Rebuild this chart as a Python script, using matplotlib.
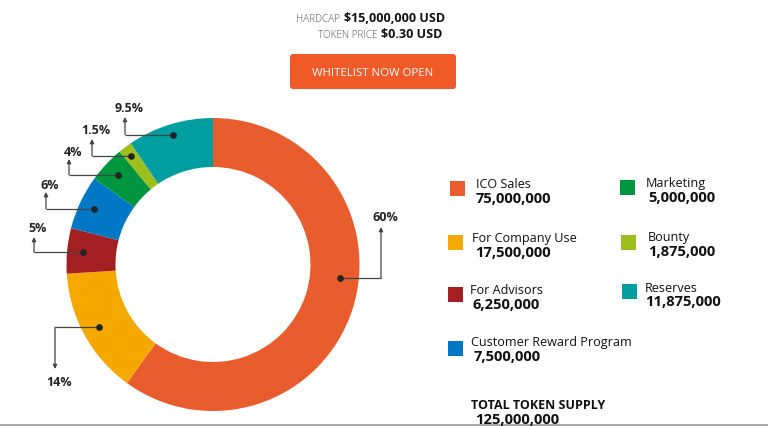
import numpy as np
import matplotlib
matplotlib.use("Agg")
import matplotlib.pyplot as plt
from matplotlib.patches import FancyBboxPatch, Rectangle

# ---- data ----
categories = ["ICO Sales", "For Company Use", "For Advisors", "Customer Reward Program",
              "Marketing", "Bounty", "Reserves"]
percents = [60, 14, 5, 6, 4, 1.5, 9.5]
pct_labels = ["60%", "14%", "5%", "6%", "4%", "1.5%", "9.5%"]
tokens = ["75,000,000", "17,500,000", "6,250,000", "7,500,000",
          "5,000,000", "1,875,000", "11,875,000"]
colors = ["#E95C2E", "#F5A800", "#A31F22", "#0177C6", "#00963F", "#9DBF1E", "#009EA0"]
total_supply = "125,000,000"
hardcap = "$15,000,000 USD"
token_price = "$0.30 USD"

W, H = 768, 427
fig = plt.figure(figsize=(W / 100, H / 100), dpi=100)
ax = fig.add_axes([0, 0, 1, 1])

FONT = "Open Sans"

def Y(y):
    return H - y

cx, cy = 213, 265.5
R, RW = 146.5, 49
wedges, _ = ax.pie(percents, colors=colors, startangle=90, counterclock=False,
                   center=(cx, Y(cy)), radius=R,
                   wedgeprops=dict(width=RW, linewidth=0), frame=True)
ax.set_xlim(0, W)
ax.set_ylim(0, H)
ax.set_aspect("equal")
ax.axis("off")

# ---- annotations: dot -> elbow -> arrow tip, label ----
# (dot angle override, dot radius, horizontal end x, vertical tip y, label y)
ann = [
    (-6, 128, 381, 228, 218),
    (None, 130, 55, 370, 383),
    (None, 131, 34, 238, 229),
    (None, 131, 46, 193, 186),
    (None, 131, 69, 160, 152),
    (None, 136, 92, 140, 131),
    (None, 136, 125, 118, 109),
]
cum = 0
for i, p in enumerate(percents):
    mid = 90 - (cum + p / 2) * 3.6
    cum += p
    ang_o, rr, ex, ty, ly = ann[i]
    ang = mid if ang_o is None else ang_o
    dx = cx + rr * np.cos(np.radians(ang))
    dy = cy - rr * np.sin(np.radians(ang))
    ax.plot([dx, ex], [Y(dy), Y(dy)], color="#444444", lw=0.9, solid_capstyle="butt")
    ax.annotate("", xy=(ex, Y(ty)), xytext=(ex, Y(dy)),
                arrowprops=dict(arrowstyle="-|>", color="#444444", lw=0.9,
                                mutation_scale=6, shrinkA=0, shrinkB=0))
    ax.plot([dx], [Y(dy)], "o", color="#222222", ms=3.8)
    ax.text(ex + 4, Y(ly), pct_labels[i], ha="center", va="center", fontsize=9,
            fontweight="bold", family=FONT, color="#222222")

# ---- header ----
ax.text(340, Y(19), "HARDCAP", ha="right", va="center", fontsize=7.2,
        family=FONT, fontweight="light", color="#555555")
ax.text(344, Y(19), hardcap, ha="left", va="center", fontsize=9,
        family=FONT, fontweight="bold", color="#111111")
ax.text(377, Y(35), "TOKEN PRICE", ha="right", va="center", fontsize=7.2,
        family=FONT, fontweight="light", color="#555555")
ax.text(381, Y(35), token_price, ha="left", va="center", fontsize=9,
        family=FONT, fontweight="bold", color="#111111")

btn = FancyBboxPatch((290, Y(90)), 166, 35, boxstyle="round,pad=0,rounding_size=3",
                     fc="#F05A28", ec="none")
ax.add_patch(btn)
ax.text(373, Y(73), "WHITELIST NOW OPEN", ha="center", va="center", fontsize=8.2,
        family=FONT, color="white")

# ---- legend ----
leg = [  # square x, square y (top), text x, title y, number x, number y
    (450, 182, 476, 185, 476, 199),
    (448, 236, 472, 239, 475, 253),
    (448, 288, 470, 291, 473, 305),
    (448, 342, 471, 343, 474, 357),
    (620, 181, 646, 184, 648, 198),
    (621, 236, 648, 238, 648, 252),
    (622, 285, 645, 288, 645, 302),
]
for i, (sx, sy, tx, ty, nx, ny) in enumerate(leg):
    ax.add_patch(Rectangle((sx, Y(sy + 15)), 15, 15, fc=colors[i], ec="none"))
    ax.text(tx, Y(ty), categories[i], ha="left", va="center", fontsize=9.1,
            family=FONT, color="#111111")
    ax.text(nx, Y(ny), tokens[i], ha="left", va="center", fontsize=10.6,
            family=FONT, fontweight="bold", color="#111111")

ax.text(471, Y(406), "TOTAL TOKEN SUPPLY", ha="left", va="center", fontsize=9,
        family=FONT, fontweight="bold", color="#111111")
ax.text(475, Y(420), total_supply, ha="left", va="center", fontsize=10.6,
        family=FONT, fontweight="bold", color="#111111")

ax.plot([0, W], [Y(425.5), Y(425.5)], color="#999999", lw=1.2)

fig.savefig("out.png", dpi=100)
